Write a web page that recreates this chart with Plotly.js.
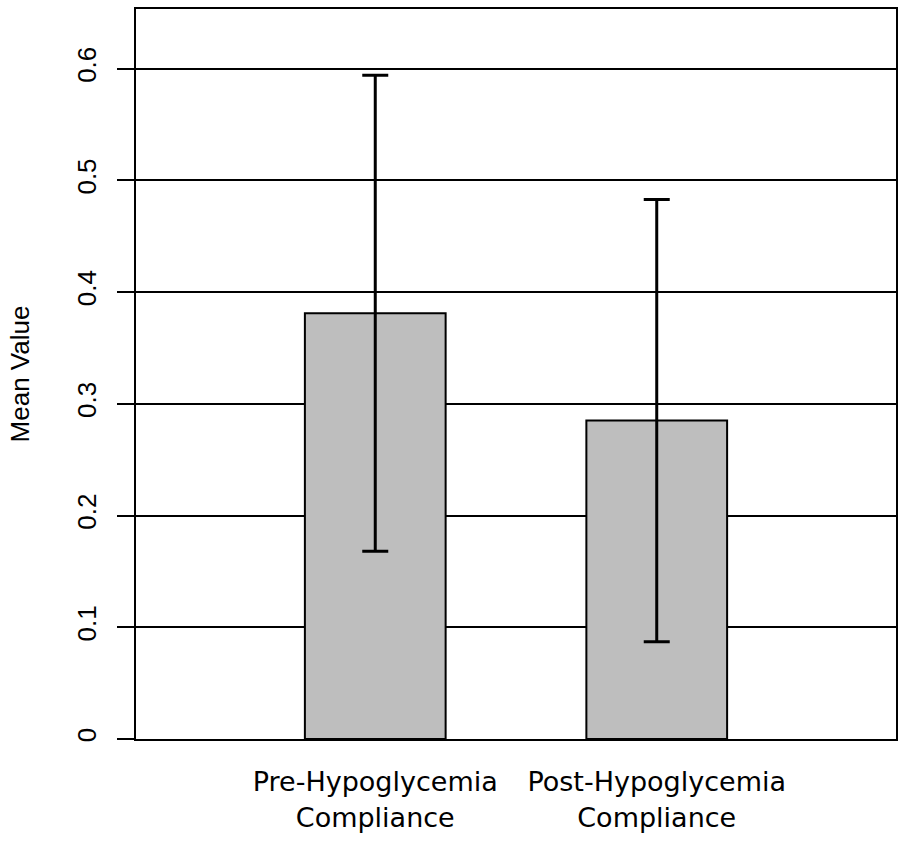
<!DOCTYPE html>
<html>
<head>
<meta charset="utf-8">
<script src="https://cdn.plot.ly/plotly-3.0.1.min.js"></script>
<style>html,body{margin:0;padding:0;background:#fff;}#chart{width:898px;height:846px;}</style>
</head>
<body>
<div id="chart"></div>
<script>
const categories = ["Pre-Hypoglycemia<br>Compliance", "Post-Hypoglycemia<br>Compliance"];
const positions = [1.5, 3.5];
const meanValues = [0.381, 0.285];
const sdValues = [0.213, 0.198];
const yTickVals = [0, 0.1, 0.2, 0.3, 0.4, 0.5, 0.6];
const yTickText = ["0", "0.1", "0.2", "0.3", "0.4", "0.5", "0.6"];

const trace = {
  type: 'bar',
  x: positions,
  y: meanValues,
  width: 1,
  marker: {color: '#bebebe', line: {color: '#000', width: 2}},
  error_y: {type: 'data', array: sdValues, visible: true, color: '#000', thickness: 3, width: 13},
  hoverinfo: 'none'
};

const yTop = Math.max(...meanValues.map((m, i) => m + sdValues[i])) * 1.1;

const layout = {
  width: 898, height: 846,
  margin: {l: 136, r: 2, t: 9, b: 107},
  paper_bgcolor: '#fff', plot_bgcolor: '#fff',
  showlegend: false,
  xaxis: {
    range: [-0.2, 5.2],
    tickvals: positions,
    ticktext: categories,
    ticks: '',
    showgrid: false, zeroline: false,
    showline: true, mirror: true, linecolor: '#000', linewidth: 2,
    tickfont: {family: 'DejaVu Sans', size: 27, color: '#000'},
    ticklabelstandoff: 18
  },
  yaxis: {
    range: [0, yTop],
    tickvals: yTickVals,
    ticktext: yTickText,
    tickangle: -90,
    ticks: 'outside', ticklen: 17, tickwidth: 2, tickcolor: '#000',
    showgrid: true, gridcolor: '#000', gridwidth: 2,
    zeroline: false,
    showline: true, mirror: true, linecolor: '#000', linewidth: 2,
    tickfont: {family: 'Liberation Sans', size: 26, color: '#000'},
    ticklabelstandoff: 11,
    title: {text: 'Mean Value', font: {family: 'Liberation Sans', size: 26, color: '#000'}, standoff: 34}
  }
};

Plotly.newPlot('chart', [trace], layout, {staticPlot: true});
</script>
</body>
</html>
